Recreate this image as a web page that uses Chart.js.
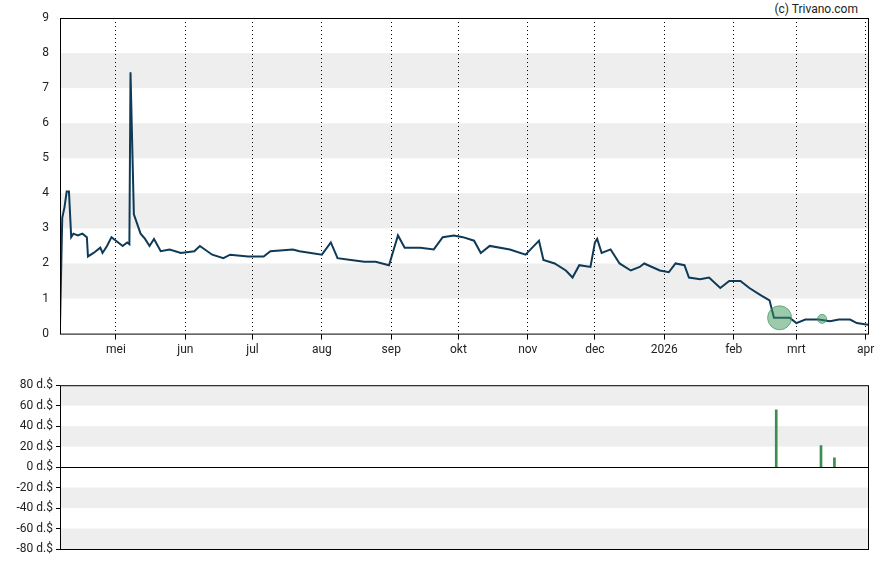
<!DOCTYPE html>
<html><head><meta charset="utf-8">
<script src="https://cdn.jsdelivr.net/npm/chart.js@4"></script>
<style>
body{margin:0;background:#fff;width:888px;height:565px;position:relative;overflow:hidden}
canvas{position:absolute;left:0}
#credit{position:absolute;right:30px;top:2px;font:12px Roboto,sans-serif;color:#222}
</style></head><body>
<div id="credit">(c) Trivano.com</div>
<canvas id="top" style="top:0px" width="888" height="360"></canvas>
<canvas id="bot" style="top:375px" width="888" height="190"></canvas>
<script>
// x = days since 1 May 2025
const monthDays = [0, 31, 61, 92, 123, 153, 184, 214, 245, 276, 304, 335];
const monthNames = ['mei', 'jun', 'jul', 'aug', 'sep', 'okt', 'nov', 'dec', '2026', 'feb', 'mrt', 'apr'];
const priceDays = [-25,-24,-23,-22,-21,-20,-19,-17,-15,-13,-12.5,-10,-7,-6,-4,-2,0,3,5,6,6.5,8,11,13,15,17,20,24,29,35,37.5,43,48,51,59,66,69,79,82,92,96,99,105,111,116,122,126,129,136,142,146,151,155,160,163,167,176,183,189,191,196,201,204,207,212,214,215,217,221,225,230,234,236,243,247,250,254,256,261,265,270,274,279,283,288,292,294,301,304,308,314,319,323,328,331,336];
const prices = [0.2,3.3,3.6,4.05,4.05,2.75,2.85,2.8,2.85,2.75,2.2,2.3,2.45,2.3,2.5,2.75,2.65,2.5,2.6,2.55,7.45,3.4,2.85,2.7,2.5,2.7,2.35,2.4,2.3,2.35,2.5,2.25,2.15,2.25,2.2,2.2,2.35,2.4,2.35,2.25,2.6,2.15,2.1,2.05,2.05,1.95,2.8,2.45,2.45,2.4,2.75,2.8,2.75,2.65,2.3,2.5,2.4,2.25,2.65,2.1,2.0,1.8,1.6,1.95,1.9,2.6,2.7,2.3,2.4,2.0,1.8,1.9,2.0,1.8,1.75,2.0,1.95,1.6,1.55,1.6,1.3,1.5,1.5,1.3,1.1,0.95,0.45,0.45,0.3,0.4,0.4,0.35,0.4,0.4,0.3,0.25];
const divDays = [295, 315, 321];
const divValues = [56, 21, 9];
const bubbleDays = [296.5, 315.5];
const bubbleValues = [0.45, 0.42];
const bubbleSizes = [12, 4.5];

const font = { family: 'Roboto, sans-serif', size: 12 };
const xMin = -25, xMax = 336;

function bandsPlugin(bands) {
  return {
    id: 'bands',
    beforeDraw(chart) {
      const { ctx, chartArea: a, scales: { y } } = chart;
      ctx.save();
      ctx.fillStyle = '#eeeeee';
      bands.forEach(([lo, hi]) => {
        const t = y.getPixelForValue(hi), b = y.getPixelForValue(lo);
        ctx.fillRect(a.left, t, a.right - a.left, b - t);
      });
      ctx.restore();
    },
    afterDraw(chart) {
      const { ctx, chartArea: a } = chart;
      ctx.save();
      ctx.strokeStyle = '#000';
      ctx.lineWidth = 1;
      ctx.strokeRect(a.left + 0.5, a.top + 0.5, a.right - a.left, a.bottom - a.top);
      ctx.restore();
    }
  };
}
const fixWidth = s => { s.width = 60; };

new Chart(document.getElementById('top'), {
  data: {
    datasets: [{
      type: 'line',
      data: priceDays.map((d, i) => ({ x: d, y: prices[i] })),
      borderColor: '#0e3a58', borderWidth: 2, pointRadius: 0, tension: 0, order: 1
    }, {
      type: 'bubble',
      data: bubbleDays.map((d, i) => ({ x: d, y: bubbleValues[i], r: bubbleSizes[i] })),
      backgroundColor: 'rgba(60,150,90,0.5)', borderColor: 'rgba(60,150,90,0.7)', borderWidth: 1, order: 0
    }]
  },
  options: {
    responsive: false, animation: false,
    layout: { padding: { top: 18, right: 20 } },
    plugins: { legend: { display: false }, tooltip: { enabled: false } },
    scales: {
      x: {
        type: 'linear', min: xMin, max: xMax,
        afterBuildTicks: s => { s.ticks = monthDays.map(v => ({ value: v })); },
        ticks: { callback: (v) => monthNames[monthDays.indexOf(v)], color: '#222', font, maxRotation: 0, autoSkip: false },
        grid: { color: '#000', lineWidth: 1, drawTicks: true, tickLength: 6, tickColor: '#000' },
        border: { display: false, dash: [1, 3] }
      },
      y: {
        min: 0, max: 9, afterFit: fixWidth,
        ticks: { stepSize: 1, color: '#222', font },
        grid: { display: false, drawTicks: true }, border: { display: false }
      }
    }
  },
  plugins: [bandsPlugin([[1, 2], [3, 4], [5, 6], [7, 8]])]
});

new Chart(document.getElementById('bot'), {
  type: 'bar',
  data: {
    datasets: [{
      data: divDays.map((d, i) => ({ x: d, y: divValues[i] })),
      backgroundColor: '#3a8f50', barThickness: 2
    }]
  },
  options: {
    responsive: false, animation: false,
    layout: { padding: { top: 9, right: 20, bottom: 16 } },
    plugins: { legend: { display: false }, tooltip: { enabled: false } },
    scales: {
      x: { type: 'linear', min: xMin, max: xMax, offset: false, display: false },
      y: {
        min: -80, max: 80, afterFit: fixWidth,
        ticks: { stepSize: 20, color: '#222', font, callback: v => v + ' d.$' },
        grid: { color: c => c.tick.value === 0 ? '#000' : 'rgba(0,0,0,0)', drawTicks: true, tickColor: '#000', tickLength: 4 },
        border: { display: false }
      }
    }
  },
  plugins: [bandsPlugin([[60, 80], [20, 40], [-40, -20], [-80, -60]])]
});
</script>
</body></html>
